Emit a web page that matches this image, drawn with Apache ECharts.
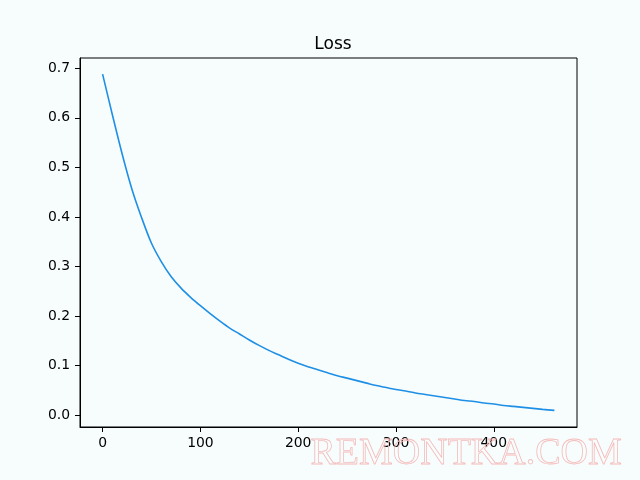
<!DOCTYPE html>
<html>
<head>
<meta charset="utf-8">
<script src="https://cdn.jsdelivr.net/npm/echarts@6/dist/echarts.min.js"></script>
<style>
html,body{margin:0;padding:0;background:#f7fdfd;}
#chart{width:640px;height:480px;}
</style>
</head>
<body>
<div id="chart"></div>
<script>
var titleText = "Loss";
var steps = [0,10,20,30,40,50,60,70,80,90,100,110,120,130,140,150,160,170,180,190,200,210,220,230,240,250,260,270,280,290,300,310,320,330,340,350,360,370,380,390,400,410,420,430,440,450,462];
var loss = [0.688,0.606,0.527,0.456,0.398,0.347,0.310,0.280,0.257,0.238,0.221,0.205,0.190,0.176,0.164,0.152,0.141,0.131,0.122,0.113,0.105,0.098,0.092,0.086,0.080,0.075,0.070,0.065,0.060,0.056,0.052,0.049,0.045,0.042,0.039,0.036,0.033,0.030,0.028,0.025,0.023,0.020,0.018,0.016,0.014,0.012,0.010];
var xTicks = [0,100,200,300,400];
var yTicks = [0,0.1,0.2,0.3,0.4,0.5,0.6,0.7];
var watermark = "REMONTKA.COM";

var chart = echarts.init(document.getElementById('chart'), null, {renderer:'canvas'});
var data = steps.map(function(s,i){return [s, loss[i]];});
var font = 'DejaVu Sans';
chart.setOption({
  backgroundColor: '#f7fdfd',
  animation: false,
  title: {
    text: titleText, left: 328, top: 31, textAlign: 'center',
    textStyle: {fontFamily: font, fontSize: 17, fontWeight: 'normal', color: '#000'}
  },
  grid: {left: 80, right: 63, top: 58, bottom: 53, show: true, borderColor: '#000', borderWidth: 1, backgroundColor: 'transparent'},
  xAxis: {
    type: 'value', min: -23.1, max: 485.1,
    axisLine: {show: true, onZero: false, lineStyle: {color: '#000', width: 1}},
    axisTick: {show: true, length: 5, customValues: xTicks, lineStyle: {color: '#000'}},
    axisLabel: {customValues: xTicks, margin: 9, fontFamily: font, fontSize: 13.9, color: '#000',
      formatter: function(v){return String(Math.round(v));}},
    splitLine: {show: false}
  },
  yAxis: {
    type: 'value', min: -0.0235, max: 0.7205,
    axisLine: {show: true, onZero: false, lineStyle: {color: '#000', width: 1}},
    axisTick: {show: true, length: 5, customValues: yTicks, lineStyle: {color: '#000'}},
    axisLabel: {customValues: yTicks, margin: 10, fontFamily: font, fontSize: 13.9, color: '#000',
      formatter: function(v){return v.toFixed(1);}},
    splitLine: {show: false}
  },
  series: [{
    type: 'line', data: data, showSymbol: false, smooth: 0.3,
    lineStyle: {color: '#1f8fe6', width: 1.6}, itemStyle: {color: '#1f8fe6'}
  }],
  graphic: [{
    type: 'text', left: 310, top: 435, silent: true, z: 100,
    style: {text: watermark, font: '38px "Liberation Serif", serif', fill: 'rgba(255,255,255,0)', stroke: '#f5bcbc', lineWidth: 0.8}
  }]
});
</script>
</body>
</html>
